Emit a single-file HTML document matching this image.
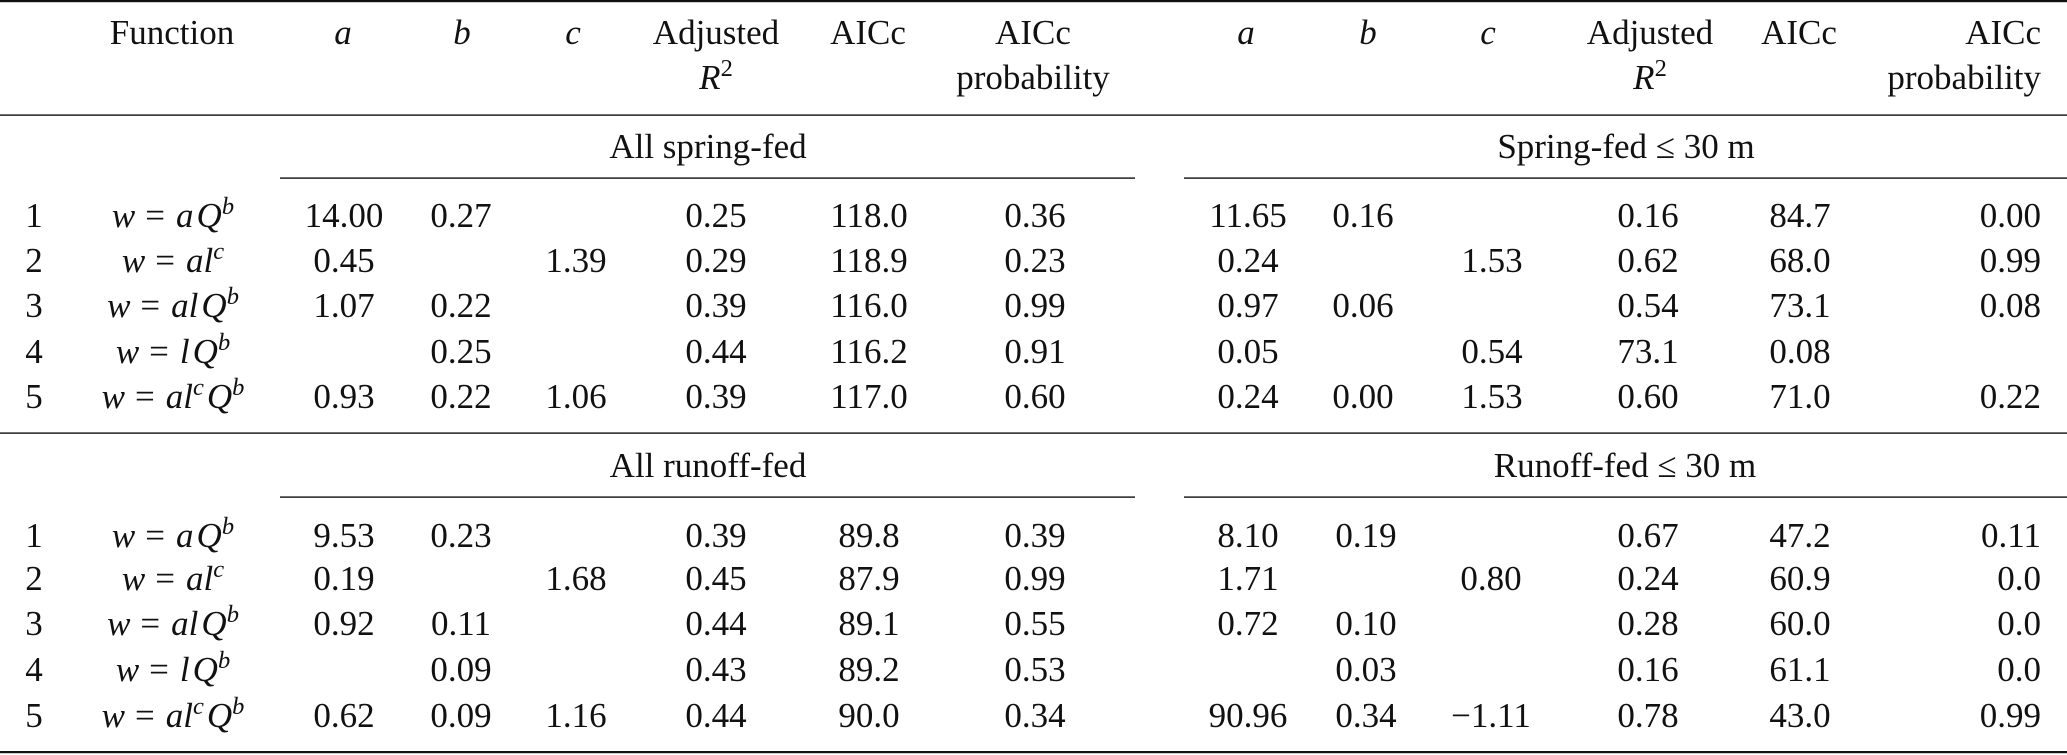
<!DOCTYPE html>
<html>
<head>
<meta charset="utf-8">
<style>
  html, body { margin: 0; padding: 0; background: #fff; }
  svg { display: block; }
  text { font-family: "Liberation Serif", "DejaVu Serif", serif; font-size: 35px; fill: #111; }
  .i { font-style: italic; }
  .m { text-anchor: middle; }
  .e { text-anchor: end; }
</style>
</head>
<body>
<svg width="2067" height="755" viewBox="0 0 2067 755" xmlns="http://www.w3.org/2000/svg">
  <rect x="0" y="0" width="2067" height="755" fill="#fff"/>
  <!-- rules -->
  <rect x="0" y="0" width="2067" height="2.2" fill="#111"/>
  <rect x="0" y="114.4" width="2067" height="1.4" fill="#111"/>
  <rect x="280" y="177.4" width="855" height="1.4" fill="#111"/>
  <rect x="1184" y="177.4" width="883" height="1.4" fill="#111"/>
  <rect x="0" y="432.4" width="2067" height="1.4" fill="#111"/>
  <rect x="280" y="496.4" width="855" height="1.4" fill="#111"/>
  <rect x="1184" y="496.4" width="883" height="1.4" fill="#111"/>
  <rect x="0" y="751" width="2067" height="2.2" fill="#111"/>

  <!-- header line 1 -->
  <text class="m" x="172" y="44">Function</text>
  <text class="m i" x="343" y="44">a</text>
  <text class="m i" x="462" y="44">b</text>
  <text class="m i" x="573" y="44">c</text>
  <text class="m" x="716" y="44">Adjusted</text>
  <text class="m" x="868" y="44">AICc</text>
  <text class="m" x="1033" y="44">AICc</text>
  <text class="m i" x="1246" y="44">a</text>
  <text class="m i" x="1368" y="44">b</text>
  <text class="m i" x="1488" y="44">c</text>
  <text class="m" x="1650" y="44">Adjusted</text>
  <text class="m" x="1799" y="44">AICc</text>
  <text class="e" x="2041" y="44">AICc</text>
  <!-- header line 2 -->
  <text class="m" x="716" y="89"><tspan class="i">R</tspan><tspan font-size="24.5" dy="-13">2</tspan></text>
  <text class="m" x="1033" y="89">probability</text>
  <text class="m" x="1650" y="89"><tspan class="i">R</tspan><tspan font-size="24.5" dy="-13">2</tspan></text>
  <text class="e" x="2041" y="89">probability</text>

  <!-- group labels -->
  <text class="m" x="708" y="158">All spring-fed</text>
  <text class="m" x="1626" y="158">Spring-fed ≤ 30 m</text>
  <text class="m" x="708" y="477">All runoff-fed</text>
  <text class="m" x="1625" y="477">Runoff-fed ≤ 30 m</text>

  <!-- Spring-fed rows -->
  <!-- row 1 -->
  <text class="m" x="34" y="227">1</text>
  <text class="m i" x="173" y="227">w<tspan font-style="normal" dx="10">=</tspan><tspan dx="11">a</tspan><tspan dx="3">Q</tspan><tspan font-size="24.5" dy="-13">b</tspan></text>
  <text class="m" x="344" y="227">14.00</text>
  <text class="m" x="461" y="227">0.27</text>
  <text class="m" x="716" y="227">0.25</text>
  <text class="m" x="869" y="227">118.0</text>
  <text class="m" x="1035" y="227">0.36</text>
  <text class="m" x="1248" y="227">11.65</text>
  <text class="m" x="1363" y="227">0.16</text>
  <text class="m" x="1648" y="227">0.16</text>
  <text class="m" x="1800" y="227">84.7</text>
  <text class="e" x="2041" y="227">0.00</text>
  <!-- row 2 -->
  <text class="m" x="34" y="272">2</text>
  <text class="m i" x="173" y="272">w<tspan font-style="normal" dx="10">=</tspan><tspan dx="11">a</tspan>l<tspan font-size="24.5" dy="-13">c</tspan></text>
  <text class="m" x="344" y="272">0.45</text>
  <text class="m" x="576" y="272">1.39</text>
  <text class="m" x="716" y="272">0.29</text>
  <text class="m" x="869" y="272">118.9</text>
  <text class="m" x="1035" y="272">0.23</text>
  <text class="m" x="1248" y="272">0.24</text>
  <text class="m" x="1492" y="272">1.53</text>
  <text class="m" x="1648" y="272">0.62</text>
  <text class="m" x="1800" y="272">68.0</text>
  <text class="e" x="2041" y="272">0.99</text>
  <!-- row 3 -->
  <text class="m" x="34" y="317">3</text>
  <text class="m i" x="173" y="317">w<tspan font-style="normal" dx="10">=</tspan><tspan dx="11">a</tspan>l<tspan dx="3">Q</tspan><tspan font-size="24.5" dy="-13">b</tspan></text>
  <text class="m" x="344" y="317">1.07</text>
  <text class="m" x="461" y="317">0.22</text>
  <text class="m" x="716" y="317">0.39</text>
  <text class="m" x="869" y="317">116.0</text>
  <text class="m" x="1035" y="317">0.99</text>
  <text class="m" x="1248" y="317">0.97</text>
  <text class="m" x="1363" y="317">0.06</text>
  <text class="m" x="1648" y="317">0.54</text>
  <text class="m" x="1800" y="317">73.1</text>
  <text class="e" x="2041" y="317">0.08</text>
  <!-- row 4 -->
  <text class="m" x="34" y="363">4</text>
  <text class="m i" x="173" y="363">w<tspan font-style="normal" dx="10">=</tspan><tspan dx="11">l</tspan><tspan dx="3">Q</tspan><tspan font-size="24.5" dy="-13">b</tspan></text>
  <text class="m" x="461" y="363">0.25</text>
  <text class="m" x="716" y="363">0.44</text>
  <text class="m" x="869" y="363">116.2</text>
  <text class="m" x="1035" y="363">0.91</text>
  <text class="m" x="1248" y="363">0.05</text>
  <text class="m" x="1492" y="363">0.54</text>
  <text class="m" x="1648" y="363">73.1</text>
  <text class="m" x="1800" y="363">0.08</text>
  <!-- row 5 -->
  <text class="m" x="34" y="408">5</text>
  <text class="m i" x="173" y="408">w<tspan font-style="normal" dx="10">=</tspan><tspan dx="11">a</tspan>l<tspan font-size="24.5" dy="-13">c</tspan><tspan dy="13" dx="3">Q</tspan><tspan font-size="24.5" dy="-13">b</tspan></text>
  <text class="m" x="344" y="408">0.93</text>
  <text class="m" x="461" y="408">0.22</text>
  <text class="m" x="576" y="408">1.06</text>
  <text class="m" x="716" y="408">0.39</text>
  <text class="m" x="869" y="408">117.0</text>
  <text class="m" x="1035" y="408">0.60</text>
  <text class="m" x="1248" y="408">0.24</text>
  <text class="m" x="1363" y="408">0.00</text>
  <text class="m" x="1492" y="408">1.53</text>
  <text class="m" x="1648" y="408">0.60</text>
  <text class="m" x="1800" y="408">71.0</text>
  <text class="e" x="2041" y="408">0.22</text>

  <!-- Runoff-fed rows -->
  <!-- row 1 -->
  <text class="m" x="34" y="547">1</text>
  <text class="m i" x="173" y="547">w<tspan font-style="normal" dx="10">=</tspan><tspan dx="11">a</tspan><tspan dx="3">Q</tspan><tspan font-size="24.5" dy="-13">b</tspan></text>
  <text class="m" x="344" y="547">9.53</text>
  <text class="m" x="461" y="547">0.23</text>
  <text class="m" x="716" y="547">0.39</text>
  <text class="m" x="869" y="547">89.8</text>
  <text class="m" x="1035" y="547">0.39</text>
  <text class="m" x="1248" y="547">8.10</text>
  <text class="m" x="1366" y="547">0.19</text>
  <text class="m" x="1648" y="547">0.67</text>
  <text class="m" x="1800" y="547">47.2</text>
  <text class="e" x="2041" y="547">0.11</text>
  <!-- row 2 -->
  <text class="m" x="34" y="590">2</text>
  <text class="m i" x="173" y="590">w<tspan font-style="normal" dx="10">=</tspan><tspan dx="11">a</tspan>l<tspan font-size="24.5" dy="-13">c</tspan></text>
  <text class="m" x="344" y="590">0.19</text>
  <text class="m" x="576" y="590">1.68</text>
  <text class="m" x="716" y="590">0.45</text>
  <text class="m" x="869" y="590">87.9</text>
  <text class="m" x="1035" y="590">0.99</text>
  <text class="m" x="1248" y="590">1.71</text>
  <text class="m" x="1491" y="590">0.80</text>
  <text class="m" x="1648" y="590">0.24</text>
  <text class="m" x="1800" y="590">60.9</text>
  <text class="e" x="2041" y="590">0.0</text>
  <!-- row 3 -->
  <text class="m" x="34" y="635">3</text>
  <text class="m i" x="173" y="635">w<tspan font-style="normal" dx="10">=</tspan><tspan dx="11">a</tspan>l<tspan dx="3">Q</tspan><tspan font-size="24.5" dy="-13">b</tspan></text>
  <text class="m" x="344" y="635">0.92</text>
  <text class="m" x="461" y="635">0.11</text>
  <text class="m" x="716" y="635">0.44</text>
  <text class="m" x="869" y="635">89.1</text>
  <text class="m" x="1035" y="635">0.55</text>
  <text class="m" x="1248" y="635">0.72</text>
  <text class="m" x="1366" y="635">0.10</text>
  <text class="m" x="1648" y="635">0.28</text>
  <text class="m" x="1800" y="635">60.0</text>
  <text class="e" x="2041" y="635">0.0</text>
  <!-- row 4 -->
  <text class="m" x="34" y="681">4</text>
  <text class="m i" x="173" y="681">w<tspan font-style="normal" dx="10">=</tspan><tspan dx="11">l</tspan><tspan dx="3">Q</tspan><tspan font-size="24.5" dy="-13">b</tspan></text>
  <text class="m" x="461" y="681">0.09</text>
  <text class="m" x="716" y="681">0.43</text>
  <text class="m" x="869" y="681">89.2</text>
  <text class="m" x="1035" y="681">0.53</text>
  <text class="m" x="1366" y="681">0.03</text>
  <text class="m" x="1648" y="681">0.16</text>
  <text class="m" x="1800" y="681">61.1</text>
  <text class="e" x="2041" y="681">0.0</text>
  <!-- row 5 -->
  <text class="m" x="34" y="727">5</text>
  <text class="m i" x="173" y="727">w<tspan font-style="normal" dx="10">=</tspan><tspan dx="11">a</tspan>l<tspan font-size="24.5" dy="-13">c</tspan><tspan dy="13" dx="3">Q</tspan><tspan font-size="24.5" dy="-13">b</tspan></text>
  <text class="m" x="344" y="727">0.62</text>
  <text class="m" x="461" y="727">0.09</text>
  <text class="m" x="576" y="727">1.16</text>
  <text class="m" x="716" y="727">0.44</text>
  <text class="m" x="869" y="727">90.0</text>
  <text class="m" x="1035" y="727">0.34</text>
  <text class="m" x="1248" y="727">90.96</text>
  <text class="m" x="1366" y="727">0.34</text>
  <text class="m" x="1491" y="727">−1.11</text>
  <text class="m" x="1648" y="727">0.78</text>
  <text class="m" x="1800" y="727">43.0</text>
  <text class="e" x="2041" y="727">0.99</text>
</svg>
</body>
</html>
